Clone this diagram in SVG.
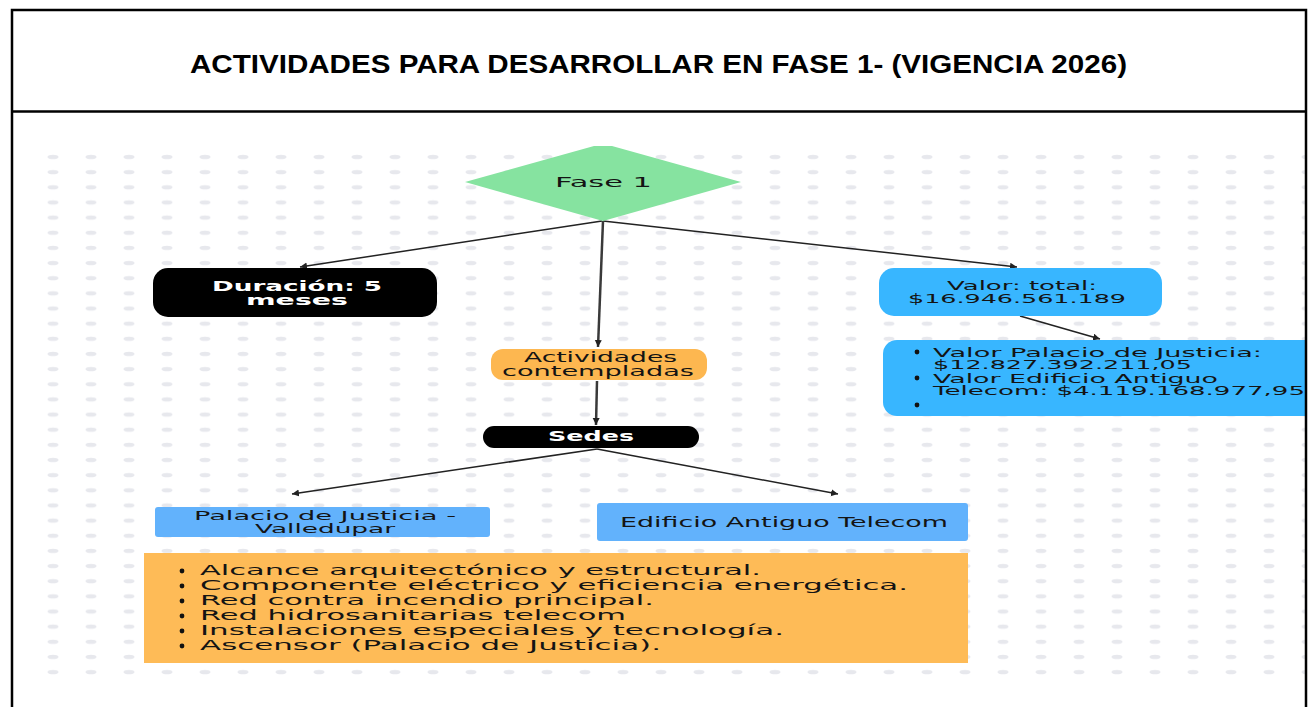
<svg xmlns="http://www.w3.org/2000/svg" width="1308" height="707" viewBox="0 0 1308 707">
<defs>
<style>
.t{font-family:"DejaVu Sans","Liberation Sans",sans-serif;font-size:14px;fill:#141414}
.s{font-size:12.5px}
.w{fill:#fff;font-weight:bold}
.title{font-family:"Liberation Sans",Arial,sans-serif;font-weight:bold;font-size:26px;fill:#000}
.c{fill:none;stroke:#222;stroke-width:1.5}
.ct{fill:none;stroke:#3a3a3a;stroke-width:2.5}
.b{fill:#111}
</style>
<pattern id="dots" patternUnits="userSpaceOnUse" x="34" y="149.4" width="38" height="15.15">
<ellipse cx="19" cy="7.575" rx="5.5" ry="2.2" fill="#e7e8ed"/>
</pattern>
<clipPath id="inner"><rect x="12" y="112" width="1294" height="600"/></clipPath>
<marker id="ah" markerUnits="userSpaceOnUse" markerWidth="8" markerHeight="8" refX="7" refY="3.5" orient="auto">
<path d="M0,0 L7,3.5 L0,7 z" fill="#222"/>
</marker>
</defs>
<rect width="1308" height="707" fill="#fff"/>
<g clip-path="url(#inner)">
<rect x="34" y="149.4" width="1272" height="530.3" fill="url(#dots)"/>
<g id="connectors">
<line class="c" x1="602" y1="221" x2="300" y2="267" marker-end="url(#ah)"/>
<line class="c" x1="603" y1="221" x2="1017" y2="267" marker-end="url(#ah)"/>
<line class="ct" x1="603" y1="221" x2="598" y2="347" marker-end="url(#ah)"/>
<line class="ct" x1="597" y1="381" x2="596" y2="425" marker-end="url(#ah)"/>
<line class="c" x1="1020" y1="316" x2="1100" y2="339" marker-end="url(#ah)"/>
<line class="c" x1="597" y1="449" x2="292" y2="494" marker-end="url(#ah)"/>
<line class="c" x1="597" y1="449" x2="838" y2="494" marker-end="url(#ah)"/>
</g>
<g id="fase1">
<polygon points="594,146 612,146 741,182 603,221 465,182" fill="#86e3a0"/>
<text class="t" x="555" y="187" font-size="16" textLength="97" lengthAdjust="spacingAndGlyphs">Fase 1</text>
</g>
<g id="duracion">
<rect x="153" y="268" width="284" height="49" rx="15" fill="#000"/>
<text class="t w" x="212" y="290.5" font-size="15" textLength="170" lengthAdjust="spacingAndGlyphs">Duración: 5</text>
<text class="t w" x="246" y="305" font-size="15" textLength="102" lengthAdjust="spacingAndGlyphs">meses</text>
</g>
<g id="valor">
<rect x="879" y="268" width="283" height="48" rx="15" fill="#38b6ff"/>
<text class="t s" x="947" y="290" textLength="150" lengthAdjust="spacingAndGlyphs">Valor: total:</text>
<text class="t s" x="908" y="302.5" textLength="218" lengthAdjust="spacingAndGlyphs">$16.946.561.189</text>
</g>
<g id="valores">
<rect x="883" y="340" width="460" height="76" rx="14" fill="#38b6ff"/>
<circle class="b" cx="917" cy="352" r="2.4"/>
<circle class="b" cx="917" cy="378" r="2.4"/>
<circle class="b" cx="917" cy="405" r="2.4"/>
<text class="t s" x="933" y="356.5" textLength="329" lengthAdjust="spacingAndGlyphs">Valor Palacio de Justicia:</text>
<text class="t s" x="933" y="369" textLength="259" lengthAdjust="spacingAndGlyphs">$12.827.392.211,05</text>
<text class="t s" x="933" y="382.5" textLength="285" lengthAdjust="spacingAndGlyphs">Valor Edificio Antiguo</text>
<text class="t s" x="933" y="395" textLength="372" lengthAdjust="spacingAndGlyphs">Telecom: $4.119.168.977,95</text>
</g>
<g id="actividades">
<rect x="491" y="349" width="216" height="31" rx="12" fill="#fdb750"/>
<text class="t" x="524" y="361.5" textLength="153" lengthAdjust="spacingAndGlyphs">Actividades</text>
<text class="t" x="502" y="376" textLength="192" lengthAdjust="spacingAndGlyphs">contempladas</text>
</g>
<g id="sedes">
<rect x="483" y="426" width="216" height="22" rx="11" fill="#000"/>
<text class="t w" x="548" y="441" textLength="86" lengthAdjust="spacingAndGlyphs">Sedes</text>
</g>
<g id="palacio">
<rect x="155" y="507" width="335" height="30" rx="3" fill="#62b2fc"/>
<text class="t s" x="194" y="520" textLength="262" lengthAdjust="spacingAndGlyphs">Palacio de Justicia -</text>
<text class="t s" x="255" y="533" textLength="140" lengthAdjust="spacingAndGlyphs">Valledupar</text>
</g>
<g id="edificio">
<rect x="597" y="503" width="371" height="38" rx="3" fill="#62b2fc"/>
<text class="t" x="620" y="527" textLength="328" lengthAdjust="spacingAndGlyphs">Edificio Antiguo Telecom</text>
</g>
<g id="lista">
<rect x="144" y="553" width="824" height="110" fill="#febb57"/>
<circle class="b" cx="182" cy="571" r="2.4"/>
<circle class="b" cx="182" cy="586" r="2.4"/>
<circle class="b" cx="182" cy="601" r="2.4"/>
<circle class="b" cx="182" cy="616" r="2.4"/>
<circle class="b" cx="182" cy="631" r="2.4"/>
<circle class="b" cx="182" cy="646" r="2.4"/>
<text class="t" x="200" y="575" textLength="561" lengthAdjust="spacingAndGlyphs">Alcance arquitectónico y estructural.</text>
<text class="t" x="200" y="590" textLength="708" lengthAdjust="spacingAndGlyphs">Componente eléctrico y eficiencia energética.</text>
<text class="t" x="200" y="605" textLength="454" lengthAdjust="spacingAndGlyphs">Red contra incendio principal.</text>
<text class="t" x="200" y="620" textLength="426" lengthAdjust="spacingAndGlyphs">Red hidrosanitarias telecom</text>
<text class="t" x="200" y="635" textLength="584" lengthAdjust="spacingAndGlyphs">Instalaciones especiales y tecnología.</text>
<text class="t" x="200" y="650" textLength="461" lengthAdjust="spacingAndGlyphs">Ascensor (Palacio de Justicia).</text>
</g>
</g>
<g id="frame">
<path d="M12,720 L12,10 L1306,10 L1306,720" fill="none" stroke="#000" stroke-width="2.5"/>
<line x1="12" y1="111.5" x2="1306" y2="111.5" stroke="#000" stroke-width="2.5"/>
<text class="title" x="190" y="73" textLength="937" lengthAdjust="spacingAndGlyphs">ACTIVIDADES PARA DESARROLLAR EN FASE 1- (VIGENCIA 2026)</text>
</g>
</svg>
